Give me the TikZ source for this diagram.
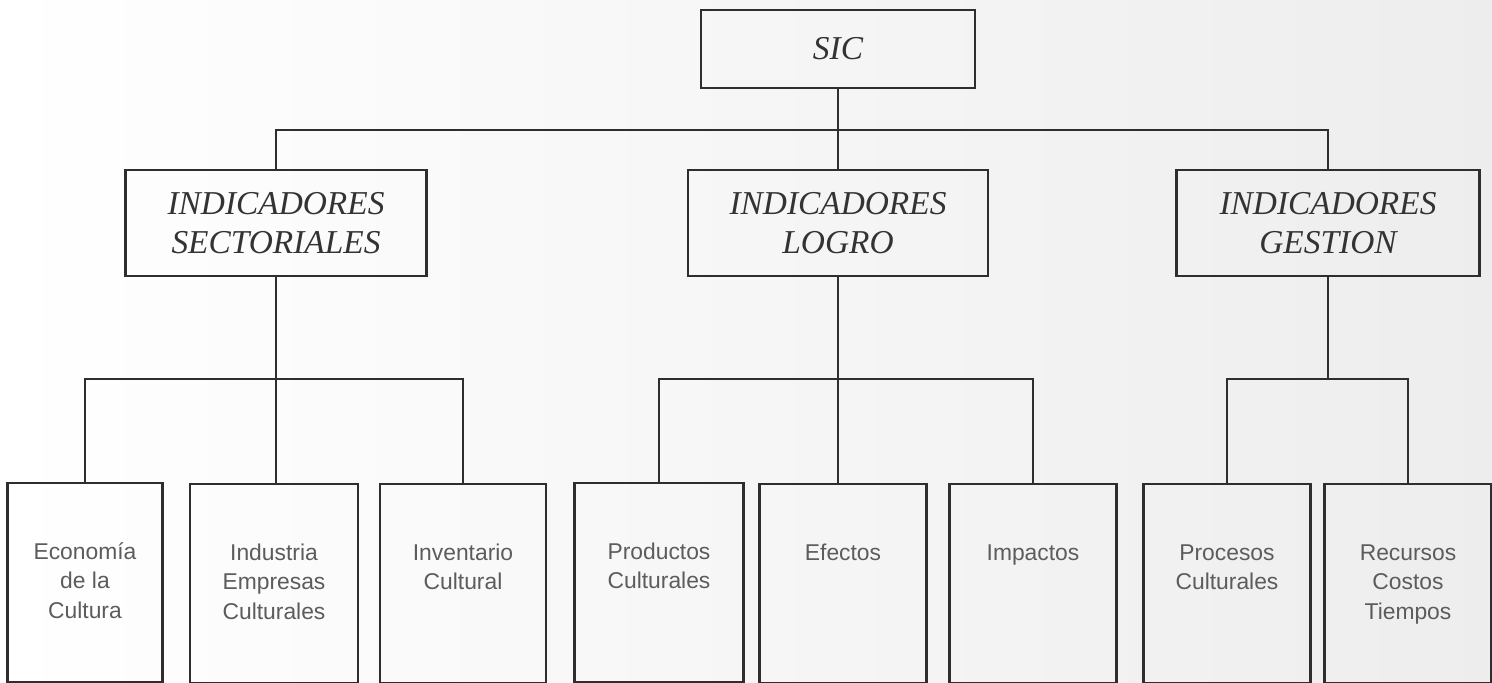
\documentclass[tikz,border=0pt]{standalone}
\usepackage{fontspec}
\setmainfont{Liberation Serif}
\setsansfont{Liberation Sans}
\usetikzlibrary{positioning}

% text of a lower box, hung from its top edge
\newcommand{\leafbody}[1]{\parbox[c][3.98cm][t]{3cm}{\centering\vspace*{31.5pt}\strut#1}}

\begin{document}
\begin{tikzpicture}[
  x=0.02cm, y=-0.02cm,
  head/.style={draw=black!82, line width=1.2pt, align=center, inner sep=0pt,
               minimum height=2.12cm, text=black!80,
               font=\itshape\fontsize{19}{22.2}\selectfont},
  leaf/.style={draw=black!82, line width=1.2pt, inner sep=0pt, anchor=north,
               minimum height=3.98cm, text=black!64,
               font=\sffamily\fontsize{13}{16.8}\selectfont},
  link/.style={draw=black!82, line width=1.2pt}
]
\path[left color=white, right color=black!7] (0,0) rectangle (1492,683);
\useasboundingbox (0,0) rectangle (1492,683);

\node[head, minimum width=5.48cm, minimum height=1.56cm] (sic) at (838,49) {SIC};

\node[head, minimum width=6.02cm] (sect)  at (276,223)  {INDICADORES\\SECTORIALES};
\node[head, minimum width=6.0cm]  (logro) at (838,223)  {INDICADORES\\LOGRO};
\node[head, minimum width=6.06cm] (gest)  at (1328,223) {INDICADORES\\GESTION};

\node[leaf, minimum width=3.1cm]  (econ)   at (85,482)   {\leafbody{Economía\\de la\\Cultura}};
\node[leaf, minimum width=3.36cm] (indus)  at (274,483)  {\leafbody{Industria\\Empresas\\Culturales}};
\node[leaf, minimum width=3.32cm] (invent) at (463,483)  {\leafbody{Inventario\\Cultural}};
\node[leaf, minimum width=3.38cm] (prod)   at (659,482)  {\leafbody{Productos\\Culturales}};
\node[leaf, minimum width=3.34cm] (efect)  at (843,483)  {\leafbody{Efectos}};
\node[leaf, minimum width=3.34cm] (impact) at (1033,483) {\leafbody{Impactos}};
\node[leaf, minimum width=3.34cm] (proces) at (1227,483) {\leafbody{Procesos\\Culturales}};
\node[leaf, minimum width=3.34cm] (recur)  at (1408,483) {\leafbody{Recursos\\Costos\\Tiempos}};

\coordinate (top) at (0,130);
\coordinate (mid) at (0,379);

\draw[link] (sic.south) -- (logro.north);
\draw[link] (sect.north) -- (sect.north |- top) -| (gest.north);

\draw[link] (sect.south) -- (sect.south |- indus.north);
\draw[link] (econ.north) -- (econ.north |- mid) -| (invent.north);

\draw[link] (logro.south) -- (logro.south |- efect.north);
\draw[link] (prod.north) -- (prod.north |- mid) -| (impact.north);

\draw[link] (gest.south) -- (gest.south |- mid);
\draw[link] (proces.north) -- (proces.north |- mid) -| (recur.north);
\end{tikzpicture}
\end{document}
